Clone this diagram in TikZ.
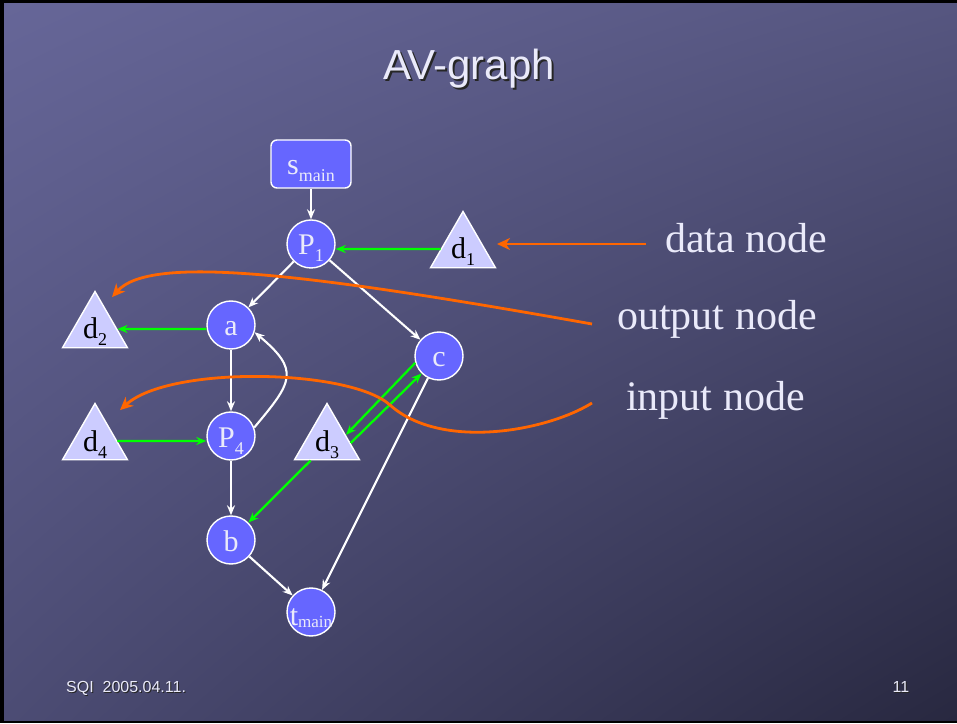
\documentclass[tikz,border=0pt]{standalone}
\usepackage{fontspec}
\setmainfont{Liberation Serif}
\setsansfont{Liberation Sans}
\usetikzlibrary{shapes.geometric,arrows.meta,shadings}

\definecolor{slidetl}{RGB}{102,102,152}
\definecolor{slidetr}{RGB}{86,86,128}
\definecolor{slidebl}{RGB}{76,76,116}
\definecolor{slidebr}{RGB}{40,40,64}
\definecolor{nodeblue}{RGB}{102,102,255}
\definecolor{datafill}{RGB}{204,204,255}
\definecolor{flowgreen}{RGB}{0,255,0}
\definecolor{noteorange}{RGB}{255,102,0}
\definecolor{lavender}{RGB}{234,234,250}

\newcommand{\lo}[1]{\raisebox{-7pt}{\fontsize{18}{18}\selectfont #1}}

\tikzset{
  opnode/.style={circle, fill=nodeblue, draw=white, line width=1.4pt,
    minimum size=48pt, inner sep=0pt, text=lavender,
    text height=22pt, text depth=0pt, font=\fontsize{30}{30}\selectfont},
  startnode/.style={rectangle, rounded corners=6pt, fill=nodeblue, draw=white,
    line width=1.4pt, minimum width=80pt, minimum height=48pt, inner sep=0pt,
    text=lavender, text height=22pt, text depth=0pt,
    font=\fontsize{30}{30}\selectfont},
  dnode/.style={regular polygon, regular polygon sides=3, fill=datafill,
    draw=white, line width=1.4pt, minimum size=75pt, inner sep=0pt,
    text=black, text height=20pt, text depth=0pt,
    font=\fontsize{30}{30}\selectfont},
  notetext/.style={inner sep=0pt, text=lavender, font=\fontsize{42}{42}\selectfont},
  foot/.style={inner sep=0pt, font=\sffamily\fontsize{16}{16}\selectfont},
  flow/.style={draw=white, line width=2.1pt, -{Stealth[length=10pt,width=8pt]}},
  dflow/.style={draw=flowgreen, line width=2.3pt, -{Stealth[length=10pt,width=8pt]}},
  note/.style={draw=noteorange, line width=2.8pt, -{Stealth[length=13pt,width=12pt,inset=4pt]}}
}

\begin{document}
\begin{tikzpicture}[x=1pt,y=1pt]
  % slide background
  \fill[black] (0,0) rectangle (957,723);
  \shade[upper left=slidetl, upper right=slidetr, lower left=slidebl, lower right=slidebr]
    (4,3) rectangle (957,719);

  % title and footer
  \node[anchor=base, text=black!85, font=\sffamily\fontsize{42}{42}\selectfont] (titleshadow) at (471,641) {AV-graph};
  \node[anchor=base, text=lavender, font=\sffamily\fontsize{42}{42}\selectfont] (title) at (469,643) {AV-graph};
  \node[foot, anchor=base west, text=black!85] (dateshadow) at (67,30) {SQI\ \ 2005.04.11.};
  \node[foot, anchor=base west, text=lavender] (date) at (66,31) {SQI\ \ 2005.04.11.};
  \node[foot, anchor=base, text=black!85] (pageshadow) at (902,30) {11};
  \node[foot, anchor=base, text=lavender] (page) at (901,31) {11};

  % the graph
  \node[startnode] (smain) at (311,559) {s\lo{main}};
  \node[opnode] (P1) at (311,479) {P\lo{1}};
  \node[dnode] (d1) at (463,474) {d\lo{1}};
  \node[opnode] (a) at (231,398) {a};
  \node[dnode] (d2) at (95,394) {d\lo{2}};
  \node[opnode] (c) at (439,367) {c};
  \node[dnode] (d4) at (95,282) {d\lo{4}};
  \node[opnode] (P4) at (231,287) {P\lo{4}};
  \node[dnode] (d3) at (327,282) {d\lo{3}};
  \node[opnode] (b) at (231,183) {b};
  \node[opnode, text height=26pt] (tmain) at (311,111) {\makebox[0pt]{t\raisebox{-2pt}{\fontsize{17}{17}\selectfont main}}};

  \draw[flow] (smain) -- (P1);
  \draw[flow] (P1) -- (a);
  \draw[flow] (P1) -- (c);
  \draw[flow] (a) -- (P4);
  \draw[flow] (P4.20) to[out=50, in=-40, looseness=1.6] (a.-17);
  \draw[flow] (P4) -- (b);
  \draw[flow] (b) -- (tmain);
  \draw[flow] (c) -- (tmain);

  \draw[dflow] (d1) -- (d1 -| P1.east);
  \draw[dflow] (d2 -| a.west) -- (d2);
  \draw[dflow] (d4) -- (d4 -| P4.west);
  \draw[dflow] (c.196) -- (d3.18);
  \draw[dflow] (d3.-5) -- (c.225);
  \draw[dflow] (d3.230) -- (b.45);

  % explanations
  \node[notetext, anchor=base west] (datalbl) at (665,470) {data node};
  \node[notetext, anchor=base west] (outlbl) at (617,393) {output node};
  \node[notetext, anchor=base west] (inlbl) at (626,312) {input node};

  \draw[note] ([xshift=-19,yshift=9]datalbl.base west) -- ([xshift=34,yshift=5]d1.center);
  \draw[note] ([xshift=-25,yshift=6]outlbl.base west) .. controls (300,451) and (150,468) .. ([xshift=17,yshift=-7]d2.corner 1);
  \draw[note] ([xshift=-34,yshift=8]inlbl.base west) .. controls (545,291) and (440,273) .. (390,318)
    .. controls (350,354) and (170,358) .. ([xshift=25,yshift=-8]d4.corner 1);
\end{tikzpicture}
\end{document}
